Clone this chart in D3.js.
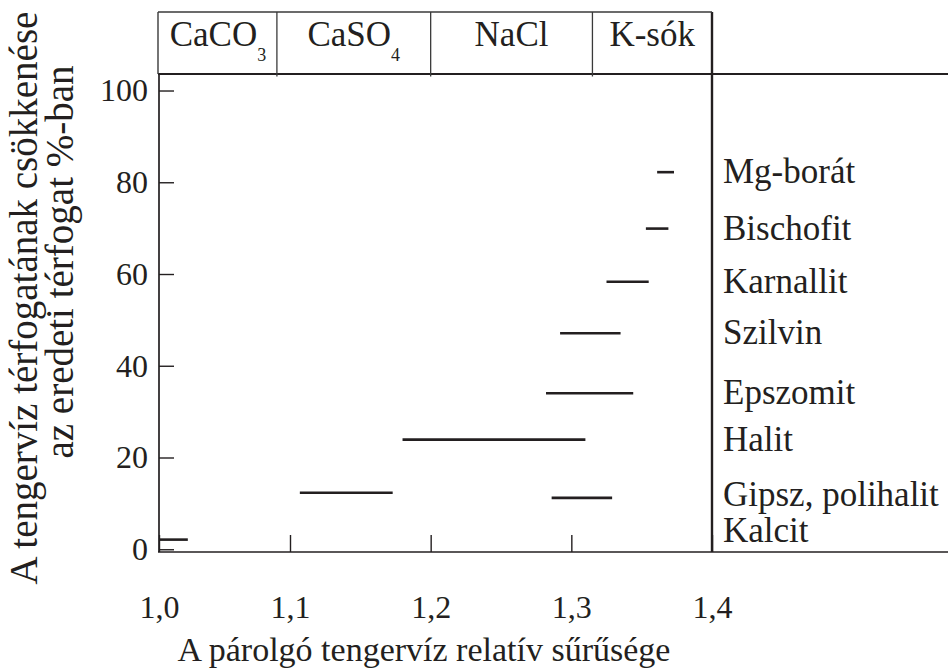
<!DOCTYPE html>
<html>
<head>
<meta charset="utf-8">
<script src="https://cdn.jsdelivr.net/npm/d3@7"></script>
<style>
  body { margin: 0; background: #fff; }
  svg text { font-family: "Liberation Serif", "Times New Roman", serif; fill: #231f20; }
</style>
</head>
<body>
<div id="chart"></div>
<script>
// mineral precipitation ranges: density from -> to, at volume decrease (%)
var segNames = ["Mg-borát", "Bischofit", "Karnallit", "Szilvin", "Epszomit", "Halit", "Gipsz", "Polihalit", "Kalcit"];
var segFrom = [1.361, 1.353, 1.325, 1.292, 1.282, 1.180, 1.107, 1.286, 1.000];
var segTo = [1.373, 1.369, 1.355, 1.335, 1.344, 1.310, 1.173, 1.329, 1.022];
var segLevel = [82.2, 69.9, 58.3, 47.1, 34.0, 23.9, 12.3, 11.2, 2.1];

var labelNames = ["Mg-borát", "Bischofit", "Karnallit", "Szilvin", "Epszomit", "Halit", "Gipsz, polihalit", "Kalcit"];
var labelLevel = [82.2, 69.9, 58.3, 47.1, 34.0, 23.9, 11.75, 2.1];

// salt groups on top
var groupNames = ["CaCO", "CaSO", "NaCl", "K-sók"];
var groupSub = ["3", "4", "", ""];
var groupBounds = [1.0, 1.09, 1.2, 1.315, 1.4];

var xTicks = [1.0, 1.1, 1.2, 1.3, 1.4];
var yTicks = [0, 20, 40, 60, 80, 100];

var width = 948, height = 671;
var ink = "#231f20";

var svg = d3.select("#chart").append("svg")
    .attr("width", width)
    .attr("height", height);

var pLeft = 159, pRight = 712, pTop = 74, pBottom = 552, headTop = 12;

// the drawing is not evenly spaced between 1,0 and 1,1
var x = d3.scaleLinear().domain([1.0, 1.1, 1.4]).range([pLeft, 290, pRight]);
var y = d3.scaleLinear().domain([-0.6, 103.6]).range([pBottom, pTop]);

// axes
var xAxis = d3.axisBottom(x).tickValues(xTicks)
    .tickSize(-17).tickPadding(43)
    .tickFormat(d => d3.format(".1f")(d).replace(".", ","));
var gx = svg.append("g").attr("transform", `translate(0,${pBottom})`).call(xAxis);
gx.select(".domain").remove();
gx.selectAll("line").attr("stroke", ink).attr("stroke-width", 1.4);
gx.selectAll("text").attr("font-size", 32).attr("fill", ink);

var yAxis = d3.axisLeft(y).tickValues(yTicks).tickSize(-15).tickPadding(11);
var gy = svg.append("g").attr("transform", `translate(${pLeft},0)`).call(yAxis);
gy.select(".domain").remove();
gy.selectAll("line").attr("stroke", ink).attr("stroke-width", 1.4);
gy.selectAll("text").attr("font-size", 32).attr("fill", ink);

// frame
function line(x1, y1, x2, y2, w, c) {
  svg.append("line").attr("x1", x1).attr("y1", y1).attr("x2", x2).attr("y2", y2)
    .attr("stroke", c || ink).attr("stroke-width", w);
}
line(pLeft, pTop, pLeft, pBottom, 1.7);
line(pLeft - 1, pBottom, width, pBottom, 1.7);
line(pLeft - 1, pTop, width, pTop, 2);
line(pRight, headTop, pRight, pBottom, 2.4);
line(pLeft - 1, headTop, pRight, headTop, 1.4, "#3a3a3a");
line(pLeft - 1, headTop, pLeft - 1, pTop, 1.4, "#3a3a3a");

// header cells
groupBounds.slice(1, -1).forEach(function (b) {
  line(x(b), headTop, x(b), pTop + 2.5, 1.3, "#3a3a3a");
});
groupNames.forEach(function (name, i) {
  var cx = (x(groupBounds[i]) + x(groupBounds[i + 1])) / 2;
  var t = svg.append("text")
      .attr("x", cx).attr("y", 46)
      .attr("text-anchor", "middle")
      .attr("font-size", 35);
  t.append("tspan").text(name);
  if (groupSub[i]) {
    t.append("tspan").attr("font-size", 18).attr("dy", 15).text(groupSub[i]);
  }
});

// precipitation segments
svg.append("g").selectAll("line")
  .data(segNames)
  .join("line")
    .attr("x1", (d, i) => x(segFrom[i]))
    .attr("x2", (d, i) => x(segTo[i]))
    .attr("y1", (d, i) => y(segLevel[i]))
    .attr("y2", (d, i) => y(segLevel[i]))
    .attr("stroke", ink)
    .attr("stroke-width", 2.6);

// mineral labels on the right
svg.append("g").selectAll("text")
  .data(labelNames)
  .join("text")
    .attr("x", pRight + 11)
    .attr("y", (d, i) => Math.min(y(labelLevel[i]) + 11, pBottom - 10))
    .attr("font-size", 35)
    .text(d => d);

// axis titles
svg.append("text")
    .attr("x", 424).attr("y", 661)
    .attr("text-anchor", "middle")
    .attr("font-size", 34)
    .text("A párolgó tengervíz relatív sűrűsége");

var yTitle = ["A tengervíz térfogatának csökkenése", "az eredeti térfogat %-ban"];
var yTitleMid = [298, 262];
yTitle.forEach(function (s, i) {
  svg.append("text")
      .attr("transform", `translate(${37 + i * 36},${yTitleMid[i]}) rotate(-90)`)
      .attr("text-anchor", "middle")
      .attr("font-size", 39)
      .text(s);
});
</script>
</body>
</html>
